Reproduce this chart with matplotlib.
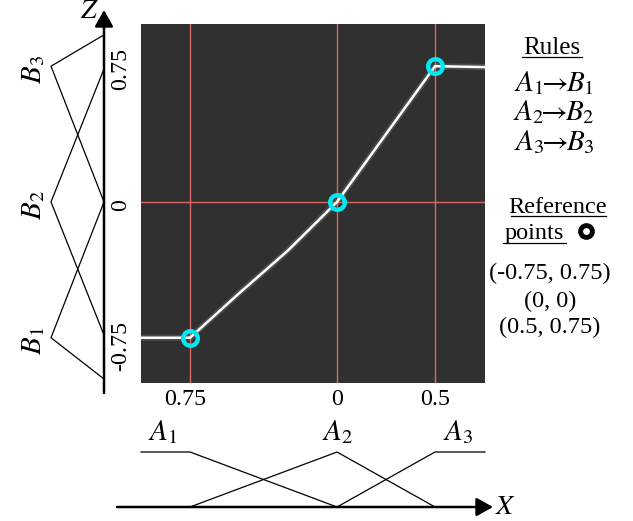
import numpy as np
import matplotlib
matplotlib.use("Agg")
import matplotlib.pyplot as plt
import matplotlib.transforms as mtransforms
from matplotlib.lines import Line2D

plt.rcParams.update({
    "font.family": "serif",
    "font.serif": ["Liberation Serif", "DejaVu Serif"],
    "mathtext.fontset": "stix",
    "font.size": 17.5,
    "axes.unicode_minus": False,
})

# ── data ──────────────────────────────────────────────────────────────────────
# input/output mapping Z(X)
curve_x = [-1.0, -0.75, -0.5, -0.25, 0.0, 0.25, 0.5, 0.755]
curve_z = [-0.75, -0.75, -0.505, -0.268, 0.0, 0.375, 0.75, 0.745]

ref_x = [-0.75, 0.0, 0.5]
ref_z = [-0.75, 0.0, 0.75]

xticks = [-0.75, 0.0, 0.5]
xtick_labels = ["0.75", "0", "0.5"]
zticks = [-0.75, 0.0, 0.75]
ztick_labels = ["-0.75", "0", "0.75"]

# input membership functions A1..A3 (x, mu)
A_x = [[-1.0, -0.75, 0.0], [-0.75, 0.0, 0.5], [0.0, 0.5, 0.755]]
A_mu = [[1, 1, 0], [0, 1, 0], [0, 1, 1]]
A_names = ["$A_1$", "$A_2$", "$A_3$"]
A_label_x = [-0.89, 0.0, 0.62]

# output membership functions B1..B3 (z, mu)
B_z = [[0.0, -0.75, -0.978], [0.735, 0.0, -0.735], [0.923, 0.75, 0.0]]
B_mu = [[0, 1, 0], [0, 1, 0], [0, 1, 0]]
B_names = ["$B_1$", "$B_2$", "$B_3$"]

rules = [r"$A_1\!\!\rightarrow\!\!B_1$", r"$A_2\!\!\rightarrow\!\!B_2$",
         r"$A_3\!\!\rightarrow\!\!B_3$"]
ref_text = ["(-0.75, 0.75)", "(0, 0)", "(0.5, 0.75)"]

# ── layout (pixels) ───────────────────────────────────────────────────────────
W, H = 633, 521
L, R, T, B = 141, 485, 24, 383
XLIM = (-1.0, 0.755)
ZLIM = (-1.0, 0.983)
sx = (R - L) / (XLIM[1] - XLIM[0])
sz = (B - T) / (ZLIM[1] - ZLIM[0])
x0 = L - XLIM[0] * sx          # pixel column of x = 0
z0 = B + ZLIM[0] * sz          # pixel row of z = 0

fig = plt.figure(figsize=(W / 100, H / 100), dpi=100)


def frac(px, py):
    return px / W, 1 - py / H


def shift(dx, dy):
    return mtransforms.ScaledTranslation(dx / 100, dy / 100, fig.dpi_scale_trans)


ARROW = dict(arrowstyle="-|>,head_length=0.5,head_width=0.28", lw=1.8,
             color="black", shrinkA=0, shrinkB=0, mutation_scale=20)

# ── main mapping panel ────────────────────────────────────────────────────────
ax = fig.add_axes([L / W, 1 - B / H, (R - L) / W, (B - T) / H])
ax.set_facecolor("#303030")
for s in ax.spines.values():
    s.set_visible(False)
for xv in xticks:
    ax.axvline(xv, color="#d86a6a", lw=1.0, zorder=1)
ax.axhline(0, color="#d86a6a", lw=1.0, zorder=1)

ax.plot(curve_x, curve_z, color="#8a8a8a", lw=4.5, alpha=0.3, zorder=2,
        solid_capstyle="butt")
ax.plot(curve_x, curve_z, color="white", lw=1.8, zorder=3)
ax.plot(ref_x, ref_z, "o", ms=10.5, mfc="none", mec="#00e8f0", mew=3.2, zorder=4)

ax.set_xlim(*XLIM)
ax.set_ylim(*ZLIM)
ax.set_xticks(xticks)
ax.set_xticklabels(xtick_labels)
ax.set_yticks(zticks)
ax.set_yticklabels(ztick_labels)
ax.tick_params(length=0, labelsize=17.3)
ax.tick_params(axis="x", pad=4)
ax.tick_params(axis="y", pad=7)
plt.setp(ax.get_yticklabels(), rotation=90, va="center")
for lab, dy in zip(ax.get_yticklabels(), [-8, -3, -3]):
    lab.set_transform(lab.get_transform() + shift(0, dy))
xlab0 = ax.get_xticklabels()[0]
xlab0.set_transform(xlab0.get_transform() + shift(-5, 0))

# ── left panel: output membership functions ──────────────────────────────────
mu_base, mu_scale = 104, 53    # pixel column of mu = 0, px per unit of mu
axl = fig.add_axes([0, 0, L / W, 1])
axl.set_xlim(mu_base / mu_scale, (mu_base - L) / mu_scale)
axl.set_ylim((z0 - H) / sz, z0 / sz)
axl.axis("off")
for zs, ms in zip(B_z, B_mu):
    axl.plot(ms, zs, color="black", lw=0.9)
for name, zc in zip(B_names, [-0.75, 0.0, 0.75]):
    axl.text(1.32, zc - 0.02, name, rotation=90, ha="center", va="center", fontsize=21)
axl.annotate("", xy=(0, (z0 - 10) / sz), xytext=(0, (z0 - 393) / sz),
             arrowprops=ARROW)
axl.text(0.27, (z0 - 12) / sz, "$Z$", ha="center", va="center", fontsize=20)

# ── bottom panel: input membership functions ─────────────────────────────────
mu_row, mu_h = 507, 55         # pixel row of mu = 0, px per unit of mu
axb = fig.add_axes([0, 0, 1, (H - B) / H])
axb.set_xlim(-x0 / sx, (W - x0) / sx)
axb.set_ylim((mu_row - H) / mu_h, (mu_row - B) / mu_h)
axb.axis("off")
for xs, ms in zip(A_x, A_mu):
    axb.plot(xs, ms, color="black", lw=0.9)
for name, xc in zip(A_names, A_label_x):
    axb.text(xc, 1.36, name, ha="center", va="center", fontsize=21)
axb.annotate("", xy=((493 - x0) / sx, 0), xytext=((117 - x0) / sx, 0),
             arrowprops=ARROW)
axb.text((505 - x0) / sx, 0, "$X$", ha="center", va="center", fontsize=20)

# ── right side text ───────────────────────────────────────────────────────────
fig.text(*frac(552, 54), "Rules", ha="center", va="baseline", fontsize=18)
fig.add_artist(Line2D([522 / W, 582 / W], [1 - 57 / H] * 2, color="black", lw=0.9))
for i, r in enumerate(rules):
    fig.text(*frac(554, 91 + 29.5 * i), r, ha="center", va="baseline", fontsize=21)

fig.text(*frac(558, 213), "Reference", ha="center", va="baseline", fontsize=17.5)
fig.add_artist(Line2D([511 / W, 606 / W], [1 - 216 / H] * 2, color="black", lw=0.9))
fig.text(*frac(534, 239), "points", ha="center", va="baseline", fontsize=17.5)
fig.add_artist(Line2D([503 / W, 566 / W], [1 - 243 / H] * 2, color="black", lw=0.9))
fig.add_artist(Line2D([586 / W], [1 - 231 / H], marker="o", ms=8.5, mfc="white",
                      mec="black", mew=3.5, ls="none"))
for t, cy in zip(ref_text, [273, 301, 327]):
    fig.text(*frac(550, cy), t, ha="center", va="center", fontsize=17.5)

fig.savefig("out.png", dpi=100)
